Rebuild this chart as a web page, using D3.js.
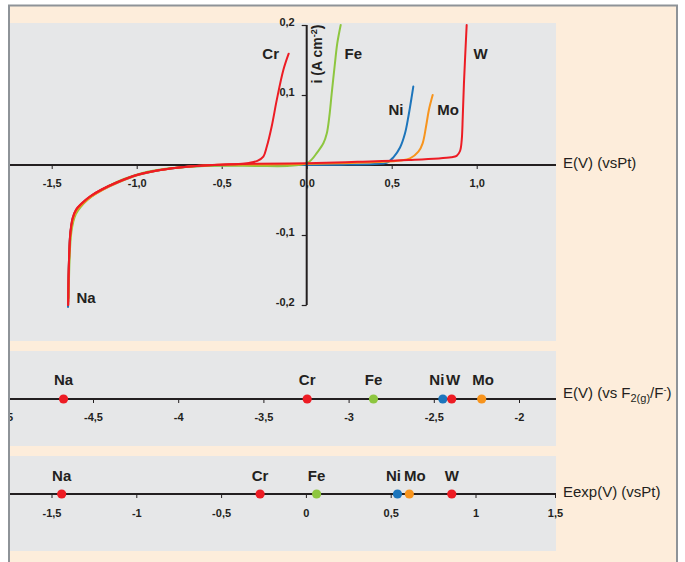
<!DOCTYPE html>
<html><head><meta charset="utf-8">
<script src="https://cdn.jsdelivr.net/npm/d3@7"></script>
<style>
html,body{margin:0;padding:0;background:#fff;}
svg text{font-family:"Liberation Sans",Arial,sans-serif;}
</style></head>
<body>
<svg id="c" width="685" height="562"></svg>
<script>
// ---------------- DATA ----------------
const metals = ["Na", "Cr", "Fe", "Ni", "Mo", "W"];
// E vs F2(g)/F- (middle scale)
const eVsF2 = [-4.673, -3.243, -2.854, -2.447, -2.219, -2.395];
// experimental E vs Pt (bottom scale)
const eExp = [-1.44, -0.27, 0.063, 0.54, 0.61, 0.86];

// tick values / labels
const topXTicks = [-1.5, -1.0, -0.5, 0, 0.5, 1.0];
const topXTickLabels = ["-1,5", "-1,0", "-0,5", "0,0", "0,5", "1,0"];
const topYTicks = [0.2, 0.1, -0.1, -0.2];
const topYTickLabels = ["0,2", "0,1", "-0,1", "-0,2"];
const midTicks = [-5, -4.5, -4, -3.5, -3, -2.5, -2];
const midTickLabels = ["-5", "-4,5", "-4", "-3,5", "-3", "-2,5", "-2"];
const botTicks = [-1.5, -1, -0.5, 0, 0.5, 1, 1.5];
const botTickLabels = ["-1,5", "-1", "-0,5", "0", "0,5", "1", "1,5"];

// current–potential curves [E (V vs Pt), i (A cm-2)]
const cathodicRed = [[-1.403,-0.200],[-1.401,-0.160],[-1.396,-0.121],[-1.392,-0.102],[-1.386,-0.088],[-1.377,-0.076],[-1.357,-0.064],[-1.324,-0.055],[-1.275,-0.045],[-1.206,-0.035],[-1.118,-0.025],[-1.0,-0.0143],[-0.863,-0.0071],[-0.706,-0.0024],[-0.51,0.0005]];
const cathodicBlue = [[-1.404,-0.203],[-1.401,-0.160],[-1.396,-0.121],[-1.392,-0.102],[-1.385,-0.088],[-1.375,-0.076],[-1.352,-0.064],[-1.318,-0.055],[-1.27,-0.045],[-1.2,-0.035],[-1.112,-0.025],[-0.995,-0.0143],[-0.86,-0.0071],[-0.70,-0.0024],[-0.51,-0.0003]];
const cathodicOrange = [[-1.402,-0.195],[-1.400,-0.160],[-1.395,-0.121],[-1.390,-0.102],[-1.383,-0.088],[-1.372,-0.076],[-1.350,-0.064],[-1.316,-0.055],[-1.266,-0.045],[-1.197,-0.035],[-1.11,-0.025],[-0.993,-0.0143],[-0.858,-0.0071],[-0.70,-0.0024],[-0.51,0.0003]];
const cathodicGreen = [[-1.400,-0.190],[-1.397,-0.150],[-1.390,-0.110],[-1.384,-0.095],[-1.374,-0.082],[-1.358,-0.070],[-1.330,-0.060],[-1.290,-0.050],[-1.235,-0.040],[-1.165,-0.030],[-1.075,-0.020],[-0.96,-0.011],[-0.82,-0.005],[-0.66,-0.002],[-0.5,-0.0012]];

const anodicCr = [[-0.40,0.0015],[-0.34,0.003],[-0.29,0.006],[-0.255,0.012],[-0.235,0.026],[-0.206,0.055],[-0.176,0.093],[-0.137,0.136],[-0.106,0.159]];
const anodicFe = [[-0.3,-0.0013],[-0.1,-0.0012],[0,0.0025],[0.03,0.008],[0.059,0.017],[0.098,0.031],[0.118,0.045],[0.133,0.069],[0.147,0.102],[0.166,0.145],[0.180,0.174],[0.2,0.2]];
const anodicNi = [[-0.2,0.0],[0.2,0.0005],[0.40,0.0015],[0.47,0.003],[0.51,0.011],[0.549,0.025],[0.578,0.045],[0.598,0.069],[0.618,0.098],[0.627,0.112]];
const anodicMo = [[-0.2,0.0008],[0.2,0.0025],[0.45,0.0045],[0.55,0.0065],[0.608,0.0095],[0.657,0.019],[0.682,0.031],[0.702,0.055],[0.719,0.079],[0.741,0.1]];
const anodicW = [[-0.3,0.0018],[0,0.0025],[0.3,0.0045],[0.6,0.007],[0.85,0.011],[0.882,0.013],[0.902,0.02],[0.912,0.036],[0.918,0.069],[0.925,0.117],[0.941,0.2]];

// ---------------- STYLE ----------------
const colors = {Na:"#ED1C24", Cr:"#ED1C24", Fe:"#8DC63F", Ni:"#1C75BC", Mo:"#F7941D", W:"#ED1C24"};
const peach = "#FDEDDB", panelGray = "#E6E7E8", ink = "#231F20";

const svg = d3.select("#c");

// frame
svg.append("rect").attr("x",9).attr("y",5.5).attr("width",668).attr("height",620)
  .attr("fill",peach).attr("stroke","#8E9398").attr("stroke-width",2);

// panels
const panels = [[23,341],[351,446],[456,551]];
const PX0 = 10, PX1 = 556;
panels.forEach(([t,b],k)=>{
  svg.append("rect").attr("x",PX0).attr("y",t).attr("width",PX1-PX0).attr("height",b-t).attr("fill",panelGray);
  svg.append("clipPath").attr("id","clip"+k).append("rect").attr("x",PX0).attr("y",t).attr("width",PX1-PX0).attr("height",b-t);
});

// ---------------- TOP PANEL ----------------
const x = d3.scaleLinear().domain([0,1]).range([306.7,476.7]);
const y = d3.scaleLinear().domain([0,0.2]).range([165,25]);

const series = [
  {name:"Ni", pts: cathodicBlue.concat(anodicNi)},
  {name:"Fe", pts: cathodicGreen.concat(anodicFe)},
  {name:"Mo", pts: cathodicOrange.concat(anodicMo)},
  {name:"Cr", pts: cathodicRed.concat(anodicCr)},
  {name:"W",  pts: cathodicRed.concat(anodicW)}
];

// x axis line
svg.append("line").attr("x1",PX0).attr("x2",PX1).attr("y1",y(0)).attr("y2",y(0))
  .attr("stroke",ink).attr("stroke-width",2);
const gx = svg.append("g").attr("transform",`translate(0,${y(0)})`)
  .call(d3.axisBottom(x).tickValues(topXTicks).tickSize(4).tickPadding(0)
        .tickFormat((d,i)=>topXTickLabels[i]));
gx.select(".domain").remove();
gx.selectAll(".tick line").attr("stroke",ink).attr("stroke-width",1);
gx.selectAll(".tick text").attr("y",0).attr("dy",null).attr("transform","translate(0,22)")
  .attr("font-size",11).attr("font-weight","bold").attr("fill",ink);

// lines
const line = d3.line().x(d=>x(d[0])).y(d=>y(d[1])).curve(d3.curveCatmullRom.alpha(0.5));
svg.append("g").attr("clip-path","url(#clip0)").selectAll("path").data(series).join("path")
  .attr("d",d=>line(d.pts)).attr("fill","none").attr("stroke",d=>colors[d.name])
  .attr("stroke-width",2).attr("stroke-linejoin","round").attr("stroke-linecap","round");

// y axis
const gy = svg.append("g").attr("transform",`translate(${x(0)},0)`)
  .call(d3.axisLeft(y).tickValues(topYTicks).tickSize(5).tickPadding(7)
        .tickFormat((d,i)=>topYTickLabels[i]));
gy.select(".domain").remove();
gy.selectAll(".tick line").attr("stroke",ink).attr("stroke-width",1.2);
gy.selectAll(".tick text").attr("dy","0").attr("y",0).attr("transform","translate(0,0)")
  .attr("font-size",11).attr("font-weight","bold").attr("fill",ink);
svg.append("line").attr("x1",x(0)).attr("x2",x(0)).attr("y1",y(0.2)).attr("y2",y(-0.2))
  .attr("stroke",ink).attr("stroke-width",2);

// y label
const yl = svg.append("text").attr("transform","translate(322,54) rotate(-90)")
  .attr("text-anchor","middle").attr("font-size",14).attr("font-weight","bold").attr("fill",ink);
yl.append("tspan").text("i (A cm");
yl.append("tspan").attr("dy",-5).attr("font-size",9).text("-2");
yl.append("tspan").attr("dy",5).text(")");

// curve labels
const curveLabelPos = {Cr:[270.7,59.3], Fe:[353.3,59.3], W:[480.7,59.3], Ni:[396,114.5], Mo:[448,114.5], Na:[86,303.3]};
metals.forEach(m=>{
  const p = curveLabelPos[m];
  svg.append("text").attr("x",p[0]).attr("y",p[1]).attr("text-anchor","middle")
    .attr("font-size",15).attr("font-weight","bold").attr("fill",ink).text(m);
});

svg.append("text").attr("x",563).attr("y",168).attr("font-size",15).attr("fill",ink).text("E(V) (vsPt)");

// ---------------- MIDDLE PANEL ----------------
const xm = d3.scaleLinear().domain([-2,-2.5]).range([519,433.8]);
const ym = 399;
svg.append("line").attr("x1",PX0).attr("x2",PX1).attr("y1",ym).attr("y2",ym).attr("stroke",ink).attr("stroke-width",2);
const gm = svg.append("g").attr("clip-path","url(#clip1)").append("g").attr("transform",`translate(0,${ym})`)
  .call(d3.axisBottom(xm).tickValues(midTicks).tickSize(4).tickPadding(0).tickFormat((d,i)=>midTickLabels[i]));
gm.select(".domain").remove();
gm.selectAll(".tick line").attr("stroke",ink);
gm.selectAll(".tick text").attr("y",0).attr("dy",null).attr("transform","translate(0,21.5)")
  .attr("font-size",11).attr("font-weight","bold").attr("fill",ink);

const midLabelShift = {Ni:-6, W:1.5, Mo:1.5};
const midData = metals.map((m,i)=>({m, v:eVsF2[i]}));
svg.append("g").selectAll("circle").data(midData).join("circle")
  .attr("cx",d=>xm(d.v)).attr("cy",ym).attr("r",4.6).attr("fill",d=>colors[d.m]);
svg.append("g").selectAll("text").data(midData).join("text")
  .attr("x",d=>xm(d.v)+(midLabelShift[d.m]||0)).attr("y",385).attr("text-anchor","middle")
  .attr("font-size",15).attr("font-weight","bold").attr("fill",ink).text(d=>d.m);

const mt = svg.append("text").attr("x",563).attr("y",398).attr("font-size",15).attr("fill",ink);
mt.append("tspan").text("E(V) (vs F");
mt.append("tspan").attr("dy",4).attr("font-size",11).text("2(g)");
mt.append("tspan").attr("dy",-4).text("/F");
mt.append("tspan").attr("dy",-5).attr("font-size",9).text("-");
mt.append("tspan").attr("dy",5).text(")");

// ---------------- BOTTOM PANEL ----------------
const xb = d3.scaleLinear().domain([-1.5,1,1.5]).range([51.5,475.5,555]);
const yb = 494;
svg.append("line").attr("x1",PX0).attr("x2",PX1).attr("y1",yb).attr("y2",yb).attr("stroke",ink).attr("stroke-width",2);
const gb = svg.append("g").attr("transform",`translate(0,${yb})`)
  .call(d3.axisBottom(xb).tickValues(botTicks).tickSize(4).tickPadding(0).tickFormat((d,i)=>botTickLabels[i]));
gb.select(".domain").remove();
gb.selectAll(".tick line").attr("stroke",ink);
gb.selectAll(".tick text").attr("y",0).attr("dy",null).attr("transform","translate(0,23)")
  .attr("font-size",11).attr("font-weight","bold").attr("fill",ink);

const botLabelShift = {Ni:-4, Mo:5.5};
const botData = metals.map((m,i)=>({m, v:eExp[i]}));
svg.append("g").selectAll("circle").data(botData).join("circle")
  .attr("cx",d=>xb(d.v)).attr("cy",yb).attr("r",4.6).attr("fill",d=>colors[d.m]);
svg.append("g").selectAll("text").data(botData).join("text")
  .attr("x",d=>xb(d.v)+(botLabelShift[d.m]||0)).attr("y",481).attr("text-anchor","middle")
  .attr("font-size",15).attr("font-weight","bold").attr("fill",ink).text(d=>d.m);

svg.append("text").attr("x",563).attr("y",497).attr("font-size",15).attr("fill",ink).text("Eexp(V) (vsPt)");
</script>
</body></html>
